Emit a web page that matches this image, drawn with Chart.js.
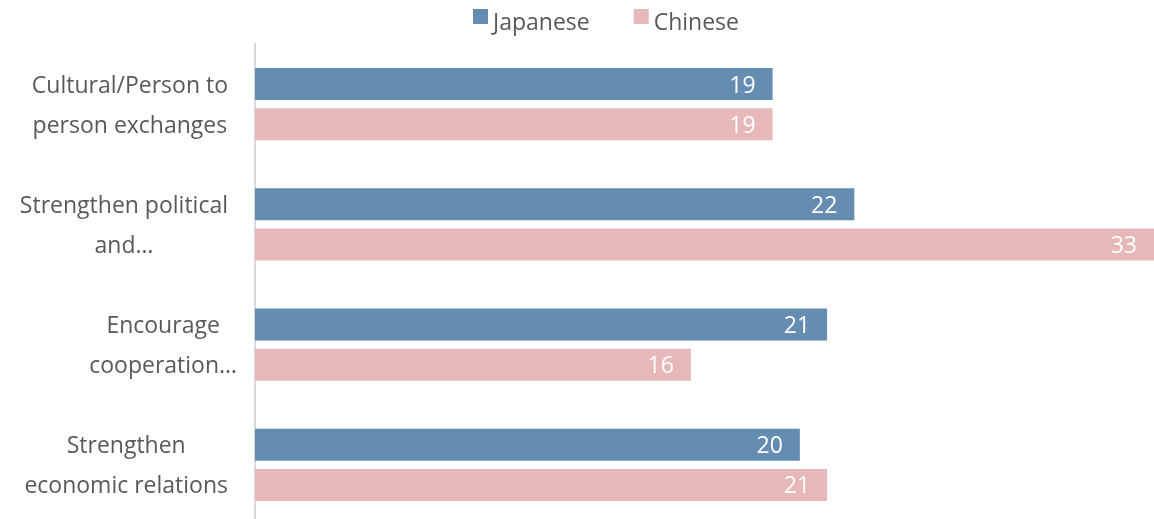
<!DOCTYPE html>
<html>
<head>
<meta charset="utf-8">
<script src="https://cdn.jsdelivr.net/npm/chart.js@4/dist/chart.umd.min.js"></script>
<style>
  html, body { margin: 0; padding: 0; background: #ffffff; overflow: hidden; }
  #wrap { width: 1154px; height: 519px; overflow: hidden; }
</style>
</head>
<body>
<div id="wrap"><canvas id="c" width="1154" height="525"></canvas></div>
<script>
// Survey categories (multi-line labels) and the two respondent groups
const categories = [
  ['Cultural/Person to', 'person exchanges'],
  ['Strengthen political', 'and…'],
  ['Encourage', 'cooperation…'],
  ['Strengthen', 'economic relations']
];
const japanese = [19, 22, 21, 20];
const chinese = [19, 33, 16, 21];
const seriesNames = ['Japanese', 'Chinese'];
const seriesColors = ['#658db2', '#e6b9b8'];

const FONT = '"Open Sans", "Noto Sans", sans-serif';
const FONT_SIZE = 23;
const LABEL_COLOR = '#595959';

// Value labels drawn inside the end of each bar
const barValueLabels = {
  id: 'barValueLabels',
  afterDatasetsDraw(chart) {
    const ctx = chart.ctx;
    ctx.save();
    ctx.font = FONT_SIZE + 'px ' + FONT;
    ctx.fillStyle = '#ffffff';
    ctx.textAlign = 'right';
    ctx.textBaseline = 'middle';
    chart.data.datasets.forEach((ds, di) => {
      chart.getDatasetMeta(di).data.forEach((bar, i) => {
        ctx.fillText(String(ds.data[i]), bar.x - 17, bar.y + 2);
      });
    });
    ctx.restore();
  }
};

// Category labels: each block of lines centred on its own widest line
// (a trailing ellipsis may overhang), right edge a fixed gap left of the axis
const categoryLabels = {
  id: 'categoryLabels',
  afterDraw(chart) {
    const ctx = chart.ctx;
    const scale = chart.scales.y;
    const lineH = 40;
    ctx.save();
    ctx.font = FONT_SIZE + 'px ' + FONT;
    ctx.fillStyle = LABEL_COLOR;
    ctx.textAlign = 'center';
    ctx.textBaseline = 'middle';
    const rightEdge = scale.right - 27;
    scale.getLabels().forEach((lines, i) => {
      const y0 = scale.getPixelForTick(i) + 2;
      const widest = Math.max(...lines.map(l => ctx.measureText(l.replace(/…$/, '')).width));
      const cx = rightEdge - widest / 2;
      const top = y0 - (lines.length - 1) * lineH / 2;
      lines.forEach((l, k) => ctx.fillText(l, cx, top + k * lineH));
    });
    ctx.restore();
  }
};

// Compact legend above the plot: square swatch, small gap, series name
const seriesLegend = {
  id: 'seriesLegend',
  afterDraw(chart) {
    const ctx = chart.ctx;
    const box = 15, gapText = 5, gapItem = 44, centerX = 606, y = 21;
    ctx.save();
    ctx.font = FONT_SIZE + 'px ' + FONT;
    ctx.textBaseline = 'middle';
    ctx.textAlign = 'left';
    const items = chart.data.datasets.map(ds => ({
      text: ds.label, color: ds.backgroundColor, w: ctx.measureText(ds.label).width
    }));
    const total = items.reduce((s, it) => s + box + gapText + it.w, 0) + gapItem * (items.length - 1);
    let x = centerX - total / 2;
    items.forEach(it => {
      ctx.fillStyle = it.color;
      ctx.fillRect(x, y - 12, box, box);
      x += box + gapText;
      ctx.fillStyle = LABEL_COLOR;
      ctx.fillText(it.text, x, y + 2);
      x += it.w + gapItem;
    });
    ctx.restore();
  }
};

new Chart(document.getElementById('c'), {
  type: 'bar',
  data: {
    labels: categories,
    datasets: [
      { label: seriesNames[0], data: japanese, backgroundColor: seriesColors[0],
        categoryPercentage: 0.6667, barPercentage: 0.8 },
      { label: seriesNames[1], data: chinese, backgroundColor: seriesColors[1],
        categoryPercentage: 0.6667, barPercentage: 0.8 }
    ]
  },
  options: {
    indexAxis: 'y',
    responsive: false,
    animation: false,
    layout: { padding: { top: 44, right: 0, bottom: 0, left: 0 } },
    plugins: {
      legend: { display: false },
      tooltip: { enabled: false }
    },
    scales: {
      x: {
        display: false,
        min: 0,
        max: 33
      },
      y: {
        grid: { display: false },
        border: { display: true, color: '#d9d9d9', width: 2 },
        ticks: { display: false },
        afterFit(scale) { scale.width = 255; }
      }
    }
  },
  plugins: [barValueLabels, categoryLabels, seriesLegend]
});
</script>
</body>
</html>
